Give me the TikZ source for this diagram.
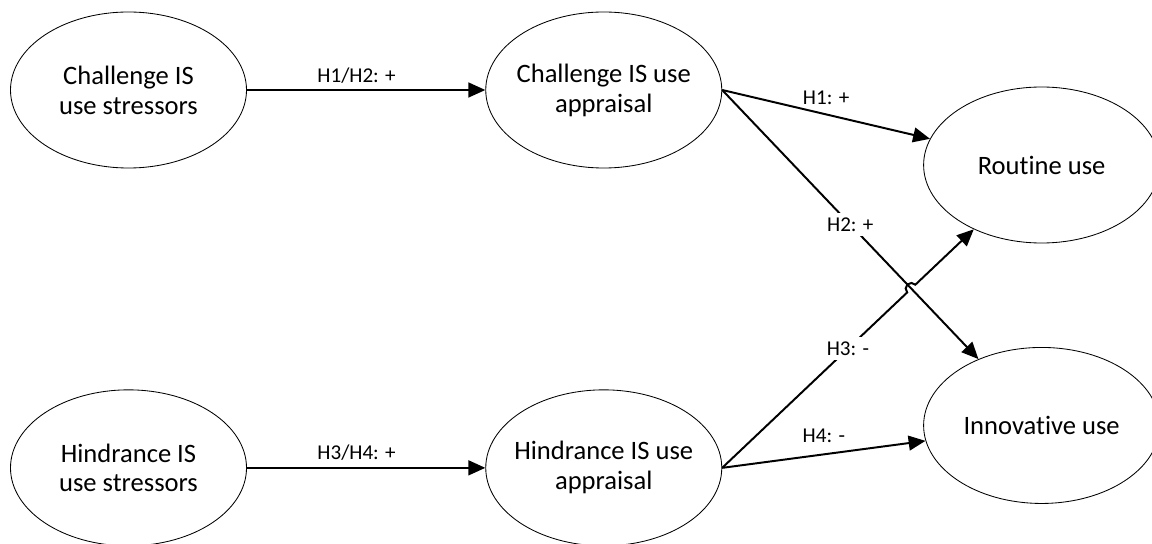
\documentclass[tikz,border=0pt]{standalone}
\usepackage{fontspec}
\setmainfont{Carlito}[Ligatures=NoCommon]
\usetikzlibrary{arrows.meta,positioning,shapes.geometric,calc,intersections}

\begin{document}
\begin{tikzpicture}[x=0.25mm, y=0.25mm]
\tikzset{construct/.style={draw, ellipse, line width=0.6pt, minimum width=59mm,
  minimum height=39mm, inner sep=0pt, inner xsep=-2mm, align=center,
  font=\fontsize{18.9}{21.3}\selectfont},
  link/.style={-{Triangle[length=12pt, width=10.5pt]}, line width=1.4pt},
  tag/.style={font=\fontsize{15}{18}\selectfont}}
\useasboundingbox (0,0) rectangle (1152,-544);
\node[construct] (cs) at (128.5,-90) {Challenge IS\\use stressors};
\node[construct, right=59.6mm of cs] (ca) {Challenge IS use\\appraisal};
\node[construct, below=55.25mm of cs] (hs) {Hindrance IS\\use stressors};
\node[construct, right=59.6mm of hs] (ha) {Hindrance IS use\\appraisal};
\node[construct, right=50.25mm of ca, yshift=-18.75mm] (ru) {Routine use};
\node[construct, below=25.9mm of ru] (iu) {Innovative use};
\draw[link] (cs) -- node[tag, above=1pt, pos=0.46] {H1/H2: +} (ca);
\draw[link] (hs) -- node[tag, above=1pt, pos=0.46] {H3/H4: +} (ha);
\draw[link] (ca.east) -- node[tag, above=3pt] {H1: +} (ru);
\draw[link, name path=h2] (ca.east) -- node[tag, fill=white] {H2: +} (iu);
% H3 hops over H2 where they cross
\path[name path=h3] (ha.east) -- (ru);
\path[name intersections={of=h2 and h3, by=jump}];
\draw[link] let \p1=($(ru)-(ha.east)$), \n1={atan2(\y1,\x1)} in
  (ha.east) -- ($(jump)!4pt!(ha.east)$)
  arc[start angle=\n1+180, end angle=\n1, radius=4pt] -- (ru);
\path (ha.east) -- node[tag, fill=white] {H3: -} (ru);
\draw[link] (ha.east) -- node[tag, above=4pt] {H4: -} (iu);
\end{tikzpicture}
\end{document}
